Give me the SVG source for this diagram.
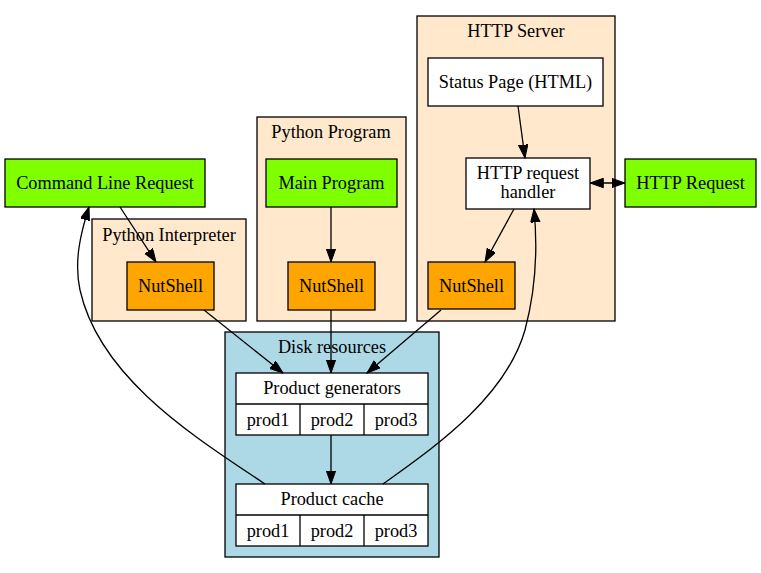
<svg xmlns="http://www.w3.org/2000/svg" width="761" height="573" viewBox="0 0 761 573">
<style>
text{font-family:"Liberation Serif","Times New Roman",serif;font-size:18.3px;fill:#000;text-anchor:middle;dominant-baseline:central}
.c{stroke:#000;stroke-width:1.3}
.cl{fill:#ffe8cc}
.disk{fill:#add8e6}
.g{fill:#7fff00}
.o{fill:#ffa500}
.w{fill:#fff}
.e{fill:none;stroke:#000;stroke-width:1.3}
</style>
<defs>
<marker id="a" markerUnits="userSpaceOnUse" markerWidth="14" markerHeight="11" refX="13.3" refY="4.7" orient="auto">
<path d="M0,0 L13.3,4.7 L0,9.4 z" fill="#000" stroke="#000" stroke-width="1"/>
</marker>
<marker id="as" markerUnits="userSpaceOnUse" markerWidth="14" markerHeight="11" refX="0" refY="4.7" orient="auto">
<path d="M13.3,0 L0,4.7 L13.3,9.4 z" fill="#000" stroke="#000" stroke-width="1"/>
</marker>
</defs>
<rect width="761" height="573" fill="#fff"/>
<g id="cluster_python_interpreter">
<rect class="c cl" x="92" y="219" width="154" height="102"/>
<text x="169" y="235">Python Interpreter</text>
</g>
<g id="cluster_python_program">
<rect class="c cl" x="257" y="117" width="149" height="204"/>
<text x="331" y="132">Python Program</text>
</g>
<g id="cluster_http_server">
<rect class="c cl" x="417" y="16" width="198" height="305"/>
<text x="516" y="31">HTTP Server</text>
</g>
<g id="cluster_disk">
<rect class="c disk" x="225" y="332" width="214" height="225"/>
<text x="332" y="347">Disk resources</text>
</g>
<g id="cmd_request">
<rect class="c g" x="5" y="159" width="200" height="48"/>
<text x="105" y="183">Command Line Request</text>
</g>
<g id="nutshell_pi">
<rect class="c o" x="127" y="262" width="87" height="48"/>
<text x="170.5" y="286">NutShell</text>
</g>
<g id="main_program">
<rect class="c g" x="266" y="159" width="131" height="48"/>
<text x="331.5" y="183">Main Program</text>
</g>
<g id="nutshell_pp">
<rect class="c o" x="288" y="262" width="87" height="48"/>
<text x="331.5" y="286">NutShell</text>
</g>
<g id="status_page">
<rect class="c w" x="428" y="58" width="175" height="48"/>
<text x="515.5" y="82">Status Page (HTML)</text>
</g>
<g id="http_handler">
<rect class="c w" x="466" y="158" width="124" height="51"/>
<text x="528" y="173">HTTP request</text>
<text x="528" y="192">handler</text>
</g>
<g id="http_request">
<rect class="c g" x="625" y="159" width="131" height="48"/>
<text x="690.5" y="183">HTTP Request</text>
</g>
<g id="nutshell_http">
<rect class="c o" x="428" y="262" width="87" height="47"/>
<text x="471.5" y="286">NutShell</text>
</g>
<g id="product_generators">
<rect class="c w" x="236" y="373" width="192" height="62"/>
<line class="c" x1="236" y1="404" x2="428" y2="404"/>
<line class="c" x1="300" y1="404" x2="300" y2="435"/>
<line class="c" x1="364" y1="404" x2="364" y2="435"/>
<text x="332" y="388">Product generators</text>
<text x="268" y="420">prod1</text>
<text x="332" y="420">prod2</text>
<text x="396" y="420">prod3</text>
</g>
<g id="product_cache">
<rect class="c w" x="236" y="484" width="192" height="62"/>
<line class="c" x1="236" y1="515" x2="428" y2="515"/>
<line class="c" x1="300" y1="515" x2="300" y2="546"/>
<line class="c" x1="364" y1="515" x2="364" y2="546"/>
<text x="332" y="499">Product cache</text>
<text x="268" y="531">prod1</text>
<text x="332" y="531">prod2</text>
<text x="396" y="531">prod3</text>
</g>
<g id="edges">
<path class="e" d="M120,207 L156,262" marker-end="url(#a)"/>
<path class="e" d="M331,207 L331,262" marker-end="url(#a)"/>
<path class="e" d="M518,106 L525,158" marker-end="url(#a)"/>
<path class="e" d="M590,183 L625,183" marker-start="url(#as)" marker-end="url(#a)"/>
<path class="e" d="M514,209 L485,262" marker-end="url(#a)"/>
<path class="e" d="M204,310 L283,373" marker-end="url(#a)"/>
<path class="e" d="M331,310 L331,373" marker-end="url(#a)"/>
<path class="e" d="M441,310 L367,373" marker-end="url(#a)"/>
<path class="e" d="M331,435 L331,484" marker-end="url(#a)"/>
<path class="e" d="M265,484 C200,440 100,380 80,290 C74,262 80,235 89,207" marker-end="url(#a)"/>
<path class="e" d="M383,484 C430,450 505,400 525,330 C537,285 537,240 534,209" marker-end="url(#a)"/>
</g>
</svg>
